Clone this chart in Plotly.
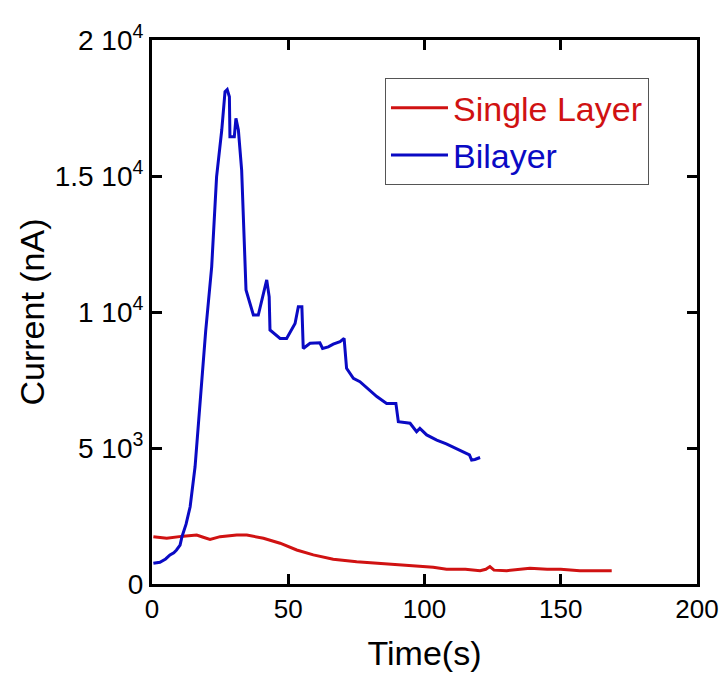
import plotly.graph_objects as go

# Bilayer series
bi_t = [0.5, 2.9, 5.0, 6.6, 8.0, 9.0, 10.3, 11.0, 12.5, 14.0, 15.8, 17.6, 19.7, 21.9, 23.7, 25.6, 26.8, 27.6,
        28.4, 28.6, 30.2, 30.8, 31.7, 32.9, 34.5, 37.2, 39.0, 42.1, 43.0, 43.3, 45.7, 47.0,
        49.4, 52.5, 53.7, 55.0, 55.5, 58.0, 61.6, 62.6, 64.7, 66.5, 69.0, 70.5, 71.4, 73.9,
        76.3, 80.0, 82.5, 86.1, 89.5, 90.4, 94.7, 97.1, 98.3, 100.8, 104.5, 108.0, 111.0,
        114.0, 116.5, 117.3, 118.5, 120.4]
bi_i = [760, 800, 920, 1066, 1150, 1250, 1430, 1740, 2200, 2840, 4310, 6760, 9300, 11660, 14970, 16690, 18100,
        18180, 17910, 16440, 16440, 17120, 16690, 15220, 10810, 9890, 9890, 11180, 10560, 9340,
        9150, 9030, 9030, 9580, 10190, 10190, 8660, 8850, 8870, 8660, 8720, 8820, 8910, 9030,
        7930, 7560, 7440, 7130, 6890, 6640, 6640, 5970, 5910, 5600, 5720, 5480, 5290, 5150,
        5000, 4850, 4750, 4560, 4580, 4650]

# Single layer series
sl_t = [0.5, 5.4, 11.5, 16.4, 18.8, 21.3, 25.0, 31.1, 34.8, 40.9, 47.0, 53.1, 59.2, 66.5,
        75.1, 83.7, 93.5, 99.6, 103.2, 108.1, 115.0, 120.4, 122.5, 124.0, 125.5, 130.2,
        134.0, 138.7, 145.0, 150.0, 157.0, 168.7]
sl_i = [1740, 1680, 1760, 1800, 1720, 1640, 1740, 1800, 1800, 1680, 1500, 1250, 1070, 910,
        820, 760, 700, 640, 615, 540, 540, 490, 540, 640, 510, 490, 530, 580, 540, 540, 490, 490]

x_ticks = [0, 50, 100, 150, 200]
y_ticks = [0, 5000, 10000, 15000, 20000]
y_ticktext = ["0", "5 10<sup>3</sup>", "1 10<sup>4</sup>", "1.5 10<sup>4</sup>", "2 10<sup>4</sup>"]

RED = "#d01212"
BLUE = "#0a0ac4"
FONT = "Liberation Sans, Arial, sans-serif"

fig = go.Figure()
fig.add_trace(go.Scatter(x=sl_t, y=sl_i, mode="lines",
                         line=dict(color=RED, width=3),
                         name=f"<span style='color:{RED}'>Single Layer</span>"))
fig.add_trace(go.Scatter(x=bi_t, y=bi_i, mode="lines",
                         line=dict(color=BLUE, width=3),
                         name=f"<span style='color:{BLUE}'>Bilayer</span>"))

axis_common = dict(showline=True, linecolor="black", linewidth=3, mirror="ticks",
                   ticks="inside", ticklen=10, tickwidth=3, tickcolor="black",
                   showgrid=False, zeroline=False, automargin=False)

fig.update_xaxes(range=[0, 200], tickvals=x_ticks, ticktext=[str(v) for v in x_ticks],
                 tickfont=dict(family=FONT, size=26, color="black"),
                 title=dict(text="Time(s)", font=dict(family=FONT, size=34, color="black"),
                            standoff=18),
                 **axis_common)
fig.update_yaxes(range=[0, 20000], tickvals=y_ticks, ticktext=y_ticktext,
                 tickfont=dict(family=FONT, size=28, color="black"),
                 title=dict(text="Current (nA)", font=dict(family=FONT, size=34, color="black"),
                            standoff=0),
                 **axis_common)

fig.update_layout(
    width=721, height=677,
    margin=dict(l=152, r=24, t=40, b=93),
    paper_bgcolor="white", plot_bgcolor="white",
    font=dict(family=FONT),
    legend=dict(x=0.4275, y=0.93, xanchor="left", yanchor="top",
                bgcolor="white", bordercolor="#555555", borderwidth=1,
                font=dict(family=FONT, size=34), tracegroupgap=0,
                itemwidth=57),
    showlegend=True,
)

fig.write_html("out.html")
